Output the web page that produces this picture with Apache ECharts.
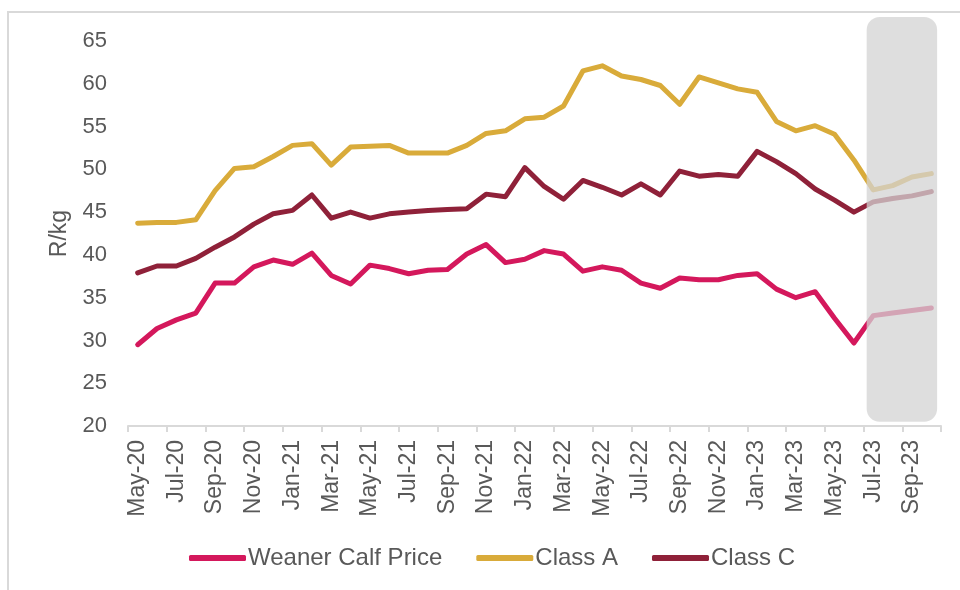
<!DOCTYPE html>
<html>
<head>
<meta charset="utf-8">
<script src="https://cdn.jsdelivr.net/npm/echarts@6/dist/echarts.min.js"></script>
<style>
html,body{margin:0;padding:0;background:#fff;}
#frame{position:absolute;left:7px;top:11px;width:960px;height:600px;border-left:2px solid #d9d9d9;border-top:2px solid #d9d9d9;}
#chart{position:absolute;left:0;top:0;width:960px;height:590px;}
</style>
</head>
<body>
<div id="frame"></div>
<div id="chart"></div>
<script>
const months = ['May-20','Jun-20','Jul-20','Aug-20','Sep-20','Oct-20','Nov-20','Dec-20',
  'Jan-21','Feb-21','Mar-21','Apr-21','May-21','Jun-21','Jul-21','Aug-21','Sep-21','Oct-21','Nov-21','Dec-21',
  'Jan-22','Feb-22','Mar-22','Apr-22','May-22','Jun-22','Jul-22','Aug-22','Sep-22','Oct-22','Nov-22','Dec-22',
  'Jan-23','Feb-23','Mar-23','Apr-23','May-23','Jun-23','Jul-23','Aug-23','Sep-23','Oct-23'];

const weanerCalf = [29.5,31.4,32.4,33.2,36.7,36.7,38.6,39.4,38.9,40.2,37.6,36.6,38.8,38.4,37.8,38.2,38.3,40.1,41.2,39.1,
  39.5,40.5,40.1,38.1,38.6,38.2,36.7,36.1,37.3,37.1,37.1,37.6,37.8,36.0,35.0,35.7,32.6,29.7,32.9,33.2,33.5,33.8];

const classA = [43.7,43.8,43.8,44.1,47.5,50.1,50.3,51.5,52.8,53.0,50.5,52.6,52.7,52.8,51.9,51.9,51.9,52.8,54.2,54.5,
  55.9,56.1,57.4,61.5,62.1,60.9,60.5,59.8,57.6,60.8,60.1,59.4,59.0,55.6,54.5,55.1,54.1,51.1,47.6,48.1,49.1,49.5];

const classC = [37.9,38.7,38.7,39.6,40.9,42.1,43.6,44.8,45.2,47.0,44.3,45.0,44.3,44.8,45.0,45.2,45.3,45.4,47.1,46.8,
  50.2,48.0,46.5,48.7,47.9,47.0,48.3,47.0,49.8,49.2,49.4,49.2,52.1,50.9,49.5,47.7,46.4,45.0,46.2,46.6,46.9,47.4];

const seriesNames = ['Weaner Calf Price','Class A','Class C'];
const forecastStart = 'Jul-23';
const forecastEnd = 'Oct-23';

const yMin = 20, yMax = 65, yStep = 5;

const colors = ['#D4185C','#D9AB3A','#8F2139'];
const font = '"Liberation Sans", Arial, sans-serif';

const chart = echarts.init(document.getElementById('chart'), null, {renderer:'canvas'});

function lineSeries(name, data, color) {
  return {
    name: name, type: 'line', data: data, symbol: 'none', z: 2,
    lineStyle: {color: color, width: 5, cap: 'round', join: 'round'},
    itemStyle: {color: color},
    emphasis: {disabled: true}
  };
}

chart.setOption({
  animation: false,
  backgroundColor: 'transparent',
  textStyle: {fontFamily: font},
  grid: {left: 128, right: 19, top: 41, bottom: 164, containLabel: false},
  legend: {
    data: seriesNames,
    top: 541,
    left: 184,
    icon: 'roundRect',
    itemWidth: 57,
    itemHeight: 6,
    itemGap: 34,
    textStyle: {fontSize: 24, color: '#595959', fontFamily: font, padding: [0,0,0,-3]}
  },
  xAxis: {
    type: 'category',
    data: months,
    boundaryGap: true,
    axisLine: {lineStyle: {color: '#d9d9d9', width: 2}},
    axisTick: {show: true, interval: 1, length: 6, lineStyle: {color: '#d9d9d9', width: 2}},
    axisLabel: {interval: 1, rotate: 90, margin: 14, fontSize: 23, color: '#595959', fontFamily: font},
    splitLine: {show: false}
  },
  yAxis: {
    type: 'value',
    min: yMin, max: yMax, interval: yStep,
    name: 'R/kg',
    nameLocation: 'middle',
    nameGap: 56,
    nameTextStyle: {fontSize: 23, color: '#595959', fontFamily: font},
    axisLine: {show: false},
    axisTick: {show: false},
    splitLine: {show: false},
    axisLabel: {fontSize: 22, color: '#595959', margin: 21, fontFamily: font}
  },
  series: [
    lineSeries(seriesNames[0], weanerCalf, colors[0]),
    lineSeries(seriesNames[1], classA, colors[1]),
    lineSeries(seriesNames[2], classC, colors[2]),
    {
      type: 'custom',
      name: 'forecast',
      silent: true,
      z: 5,
      clip: false,
      data: [[months.indexOf(forecastStart), months.indexOf(forecastEnd)]],
      renderItem: function (params, api) {
        const bw = api.size([1, 0])[0];
        const p0 = api.coord([api.value(0), 67.8]);
        const p1 = api.coord([api.value(1), 20.5]);
        const x0 = p0[0] - bw * 0.34;
        const x1 = p1[0] + bw * 0.3;
        return {
          type: 'rect',
          shape: {x: x0, y: p0[1], width: x1 - x0, height: p1[1] - p0[1], r: 13},
          style: {fill: 'rgba(211,211,211,0.75)'}
        };
      }
    }
  ]
});
</script>
</body>
</html>
